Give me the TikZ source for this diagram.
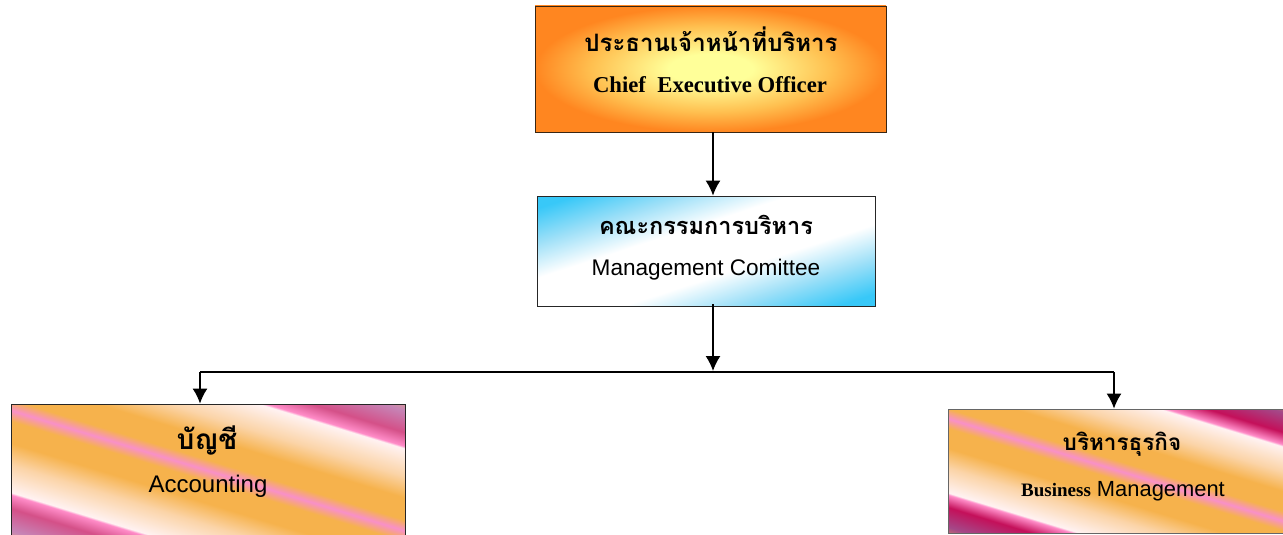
\documentclass[tikz,border=0pt]{standalone}
\usepackage{fontspec}
\setmainfont{Liberation Serif}
\setsansfont{Liberation Sans}
\newfontfamily\thaifont[Script=Thai]{Loma}
\usetikzlibrary{arrows.meta}

\definecolor{ceoin}{HTML}{FFFF99}
\definecolor{ceomid}{HTML}{FFC050}
\definecolor{ceoout}{HTML}{FF8620}
\definecolor{mccyan}{HTML}{38C8F8}
\definecolor{mclight}{HTML}{9EE0F8}
\definecolor{acccorner}{HTML}{ECB478}
\definecolor{accmauve}{HTML}{C684B6}
\definecolor{accdeep}{HTML}{D45088}
\definecolor{accpink}{HTML}{FF8CC8}
\definecolor{accwhite}{HTML}{FFF2F2}
\definecolor{accpeach}{HTML}{FBD4A8}
\definecolor{accorange}{HTML}{F6B24C}
\definecolor{accstripe}{HTML}{F890C8}
\definecolor{buscorner}{HTML}{E4A058}
\definecolor{busmauve}{HTML}{A44888}
\definecolor{busdeep}{HTML}{C4105A}

\pgfdeclareradialshading{ceoglow}{\pgfpoint{0bp}{0bp}}{color(0bp)=(ceoin); color(6bp)=(ceoin); color(17bp)=(ceomid); color(25bp)=(ceoout); color(50bp)=(ceoout)}
\pgfdeclareverticalshading{mcsky}{100bp}{color(0bp)=(mccyan); color(22bp)=(mccyan); color(32bp)=(mclight); color(42bp)=(white); color(58bp)=(white); color(68bp)=(mclight); color(78bp)=(mccyan); color(100bp)=(mccyan)}
\pgfdeclareverticalshading{accpeach}{100bp}{color(0bp)=(acccorner); color(16.2bp)=(acccorner); color(20.3bp)=(accmauve); color(25.7bp)=(accdeep); color(29.1bp)=(accpink); color(29.7bp)=(accwhite); color(36.5bp)=(accpeach); color(41.9bp)=(accorange); color(47.3bp)=(accorange); color(50bp)=(accstripe); color(52.7bp)=(accorange); color(58.1bp)=(accorange); color(63.5bp)=(accpeach); color(70.3bp)=(accwhite); color(70.9bp)=(accpink); color(74.3bp)=(accdeep); color(79.7bp)=(accmauve); color(83.8bp)=(acccorner); color(100bp)=(acccorner)}
\pgfdeclareverticalshading{buspeach}{100bp}{color(0bp)=(buscorner); color(16.2bp)=(buscorner); color(20.3bp)=(busmauve); color(25.7bp)=(busdeep); color(29.1bp)=(accpink); color(29.7bp)=(accwhite); color(36.5bp)=(accpeach); color(41.9bp)=(accorange); color(47.3bp)=(accorange); color(50bp)=(accstripe); color(52.7bp)=(accorange); color(58.1bp)=(accorange); color(63.5bp)=(accpeach); color(70.3bp)=(accwhite); color(70.9bp)=(accpink); color(74.3bp)=(busdeep); color(79.7bp)=(busmauve); color(83.8bp)=(buscorner); color(100bp)=(buscorner)}

\begin{document}
\begin{tikzpicture}[x=1pt, y=-1pt, >={Latex[length=15pt,width=15pt]},
  box/.style={draw=black!85, line width=.8pt, inner sep=0pt},
  txt/.style={inner sep=0pt}]
\useasboundingbox (0,0) rectangle (1283,535);
\clip (0,0) rectangle (1283,535);

% boxes
\node[box, shading=ceoglow, draw=black!70!brown, minimum width=351pt, minimum height=126pt] (ceo) at (710.5,69) {};
\node[box, shading=mcsky, shading angle=18, minimum width=338pt, minimum height=110pt] (mc) at (706,251) {};
\node[box, shading=accpeach, shading angle=-17, minimum width=394pt, minimum height=133pt] (acc) at (208,470.5) {};
\node[box, shading=buspeach, shading angle=-17, draw=black!60, minimum width=344pt, minimum height=124pt] (bus) at (1120,471) {};

% texts
\node[txt, font=\thaifont\bfseries\fontsize{24}{28}\selectfont] (ceoth) at (711,39) {ประธานเจ้าหน้าที่บริหาร};
\node[txt, font=\rmfamily\bfseries\fontsize{22.7}{26}\selectfont] (ceoen) at (710,85) {Chief\ \ Executive Officer};
\node[txt, font=\thaifont\bfseries\fontsize{23.5}{27}\selectfont] (mcth) at (706,225) {คณะกรรมการบริหาร};
\node[txt, font=\sffamily\fontsize{22.6}{26}\selectfont] (mcen) at (706,270) {Management Comittee};
\node[txt, font=\thaifont\bfseries\fontsize{28}{32}\selectfont] (accth) at (207,440) {บัญชี};
\node[txt, font=\sffamily\fontsize{24}{28}\selectfont] (accen) at (208,486) {Accounting};
\node[txt, font=\thaifont\bfseries\fontsize{22.5}{27}\selectfont] (busth) at (1122,444) {บริหารธุรกิจ};
\node[txt] (busen) at (1123,491) {{\rmfamily\bfseries\fontsize{19}{22}\selectfont Business}{\sffamily\fontsize{21.9}{26}\selectfont\ Management}};

% connectors
\coordinate (jn) at (713,372);
\coordinate (jl) at (200,372);
\coordinate (jr) at (1114,372);
\draw[->, line width=1.5pt] (ceo.south -| jn) -- (mc.north -| jn);
\draw[->, line width=1.5pt] ([yshift=2pt]mc.south -| jn) -- ([yshift=1pt]jn);
\draw[line width=1.5pt] (jl) -- (jr);
\draw[->, line width=1.5pt] (jl) -- (jl |- acc.north);
\draw[->, line width=1.5pt] (jr) -- (jr |- bus.north);
\end{tikzpicture}
\end{document}
